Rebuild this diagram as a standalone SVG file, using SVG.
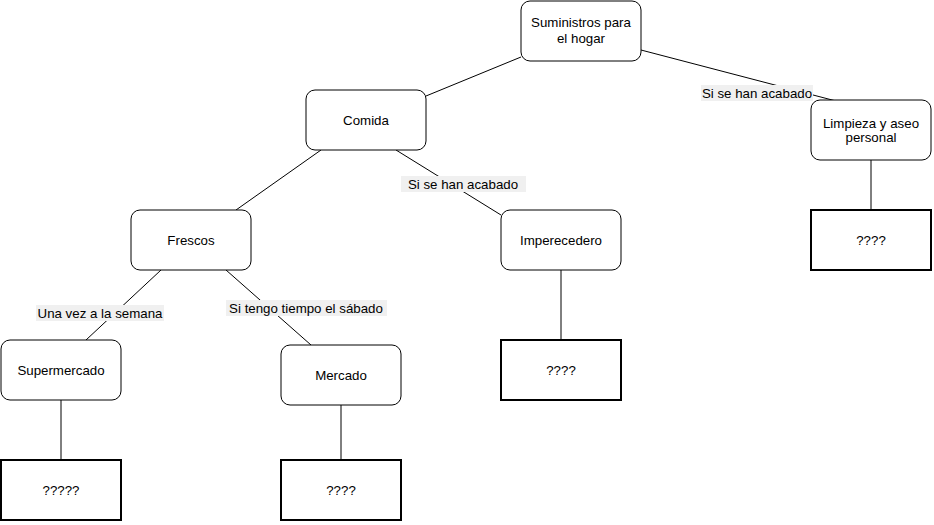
<svg xmlns="http://www.w3.org/2000/svg" width="934" height="525" viewBox="0 0 934 525">
<style>
.n{fill:#fff;stroke:#000;stroke-width:1}
.b{fill:#fff;stroke:#000;stroke-width:2}
text{font-family:"Liberation Sans",Arial,sans-serif;font-size:13.3px;text-anchor:middle;fill:#000}
.e{stroke:#000;stroke-width:1;fill:none}
.lb{fill:#f0f0f0}
</style>
<rect width="934" height="525" fill="#fff"/>
<g id="connectors">
<line class="e" x1="521" y1="57" x2="426" y2="96"/>
<line class="e" x1="641" y1="50" x2="836" y2="101"/>
<line class="e" x1="321" y1="150" x2="236" y2="210"/>
<line class="e" x1="396" y1="150" x2="501" y2="215"/>
<line class="e" x1="161" y1="270" x2="86" y2="340"/>
<line class="e" x1="226" y1="270" x2="311" y2="345"/>
<line class="e" x1="871" y1="160" x2="871" y2="210"/>
<line class="e" x1="561" y1="270" x2="561" y2="340"/>
<line class="e" x1="61" y1="400" x2="61" y2="460"/>
<line class="e" x1="341" y1="405" x2="341" y2="460"/>
<rect class="lb" x="701" y="85" width="112" height="16"/><text x="757" y="98">Si se han acabado</text>
<rect class="lb" x="401" y="176" width="125" height="16"/><text x="463" y="189">Si se han acabado</text>
<rect class="lb" x="36" y="305" width="128" height="16"/><text x="100" y="318">Una vez a la semana</text>
<rect class="lb" x="226" y="300" width="161" height="16"/><text x="306" y="313">Si tengo tiempo el sábado</text>
</g>
<g id="suministros"><rect class="n" x="521" y="1" width="120" height="60" rx="9"/><text x="581" y="27">Suministros para</text><text x="581" y="43">el hogar</text></g>
<g id="comida"><rect class="n" x="306" y="90" width="120" height="60" rx="9"/><text x="366" y="125">Comida</text></g>
<g id="limpieza"><rect class="n" x="811" y="100" width="120" height="60" rx="9"/><text x="871" y="128">Limpieza y aseo</text><text x="871" y="142">personal</text></g>
<g id="frescos"><rect class="n" x="131" y="210" width="120" height="60" rx="9"/><text x="191" y="245">Frescos</text></g>
<g id="imperecedero"><rect class="n" x="501" y="210" width="120" height="60" rx="9"/><text x="561" y="245">Imperecedero</text></g>
<g id="supermercado"><rect class="n" x="1" y="340" width="120" height="60" rx="9"/><text x="61" y="375">Supermercado</text></g>
<g id="mercado"><rect class="n" x="281" y="345" width="120" height="60" rx="9"/><text x="341" y="380">Mercado</text></g>
<g id="box-limpieza"><rect class="b" x="811" y="210" width="120" height="60"/><text x="871" y="245">????</text></g>
<g id="box-imperecedero"><rect class="b" x="501" y="340" width="120" height="60"/><text x="561" y="375">????</text></g>
<g id="box-supermercado"><rect class="b" x="1" y="460" width="120" height="60"/><text x="61" y="495">?????</text></g>
<g id="box-mercado"><rect class="b" x="281" y="460" width="120" height="60"/><text x="341" y="495">????</text></g>
</svg>
